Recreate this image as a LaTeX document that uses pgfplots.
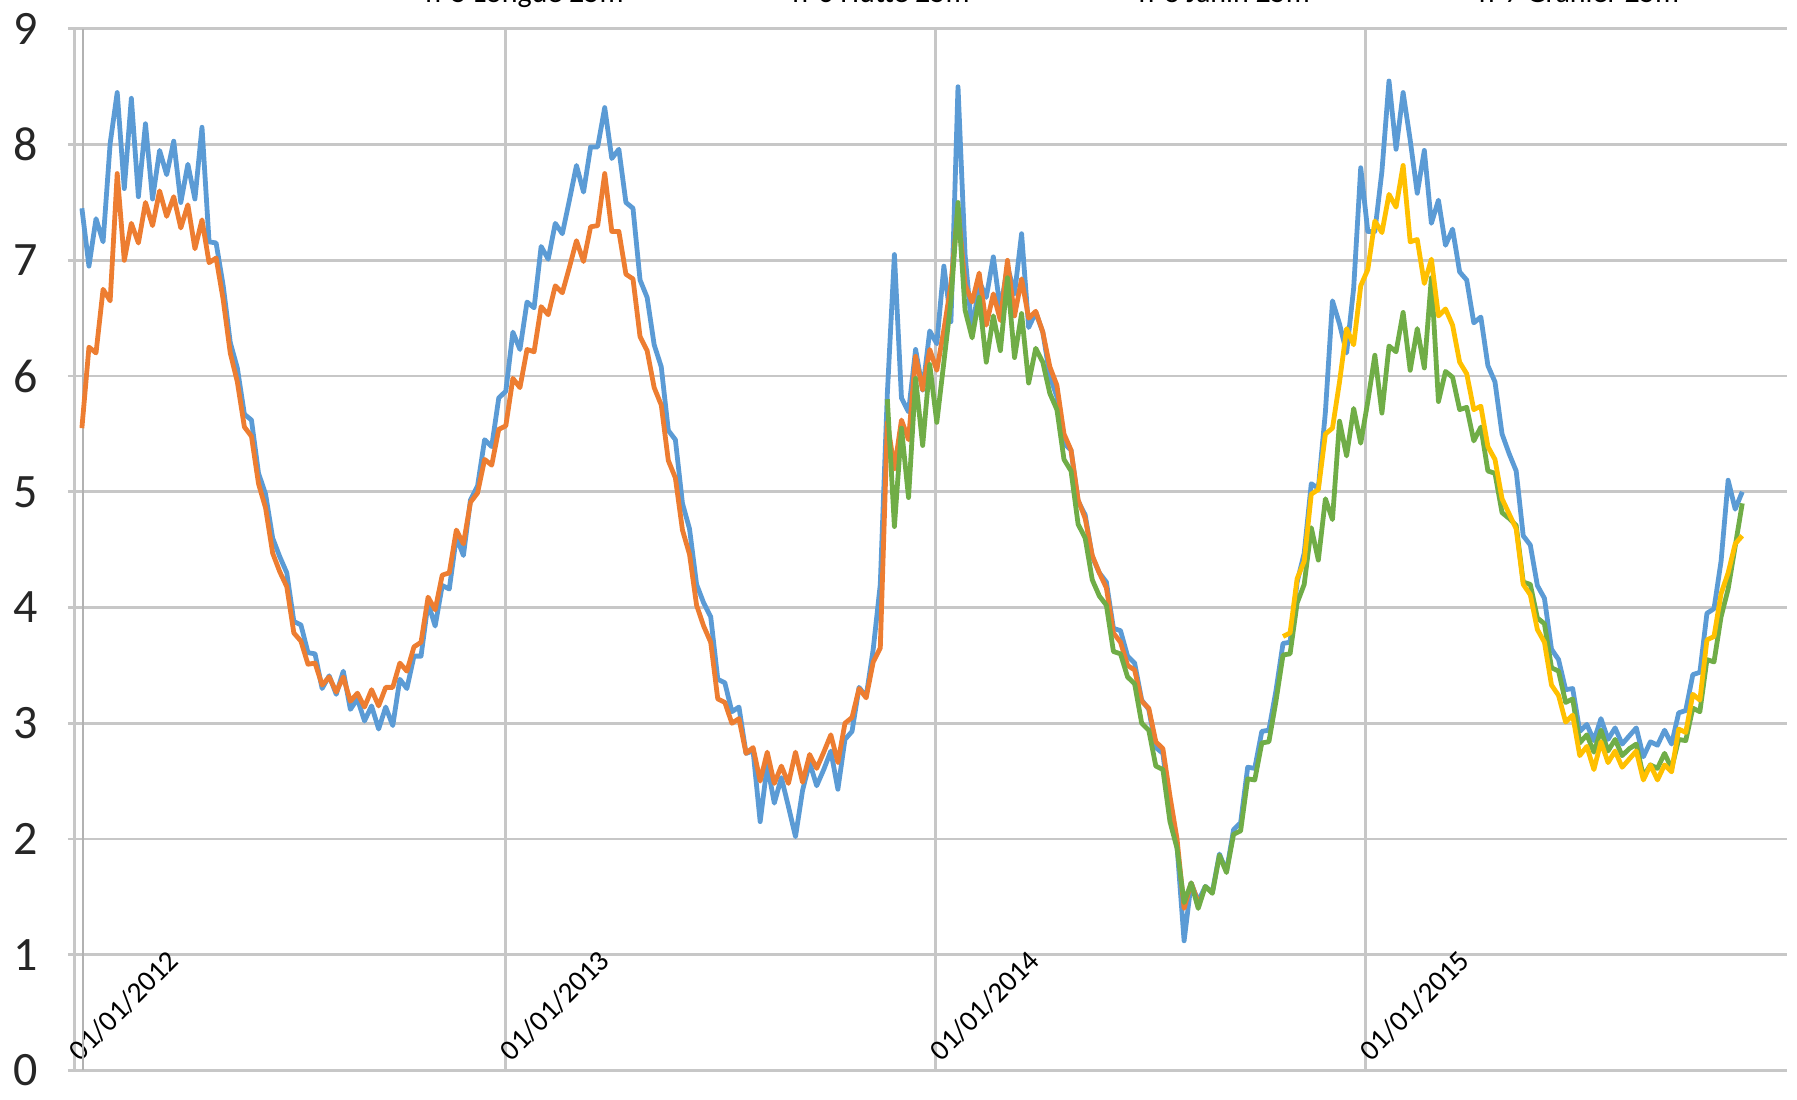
\documentclass[border=0pt]{standalone}
\usepackage{pgfplots}
\pgfplotsset{compat=1.18}
\usepackage{fontspec}
\setmainfont{Carlito}
\definecolor{cblue}{HTML}{5B9BD5}
\definecolor{corange}{HTML}{ED7D31}
\definecolor{cgreen}{HTML}{70AD47}
\definecolor{cyellow}{HTML}{FFC000}
\begin{document}
\begin{tikzpicture}
\begin{axis}[
  scale only axis, width=430pt, height=260.5pt,
  xmin=-6, xmax=1454, ymin=0, ymax=9,
  axis line style={draw=none},
  major tick length=0pt,
  xtick={0,366,731,1096},
  xticklabels={01/01/2012,01/01/2013,01/01/2014,01/01/2015},
  extra x ticks={7}, extra x tick labels={},
  extra x tick style={grid=major, major grid style={draw=black!30, line width=0.7pt}},
  ytick={0,1,2,3,4,5,6,7,8,9},
  grid=major, major grid style={draw=black!22, line width=0.7pt},
  xticklabel style={font=\fontsize{7.3}{9}\selectfont, rotate=45, anchor=south west, inner sep=0.5pt, xshift=1.8pt, yshift=-0.6pt},
  yticklabel style={font=\fontsize{12}{14}\selectfont, text=black!85, xshift=-4pt},
  /pgf/number format/assume math mode=true,
  legend columns=4,
  legend style={overlay, draw=none, fill=none, at={(axis description cs:0,1)}, anchor=south west,
    xshift=66pt, yshift=1pt, font=\fontsize{7.5}{9}\selectfont,
    /tikz/every even column/.append style={column sep=20pt}},
  every axis plot/.append style={line width=1.2pt, line join=round},
]
\addplot[cblue] table[header=false, row sep=\\, x expr={6+6*\coordindex}, y index=0] {
7.45\\ 6.95\\ 7.36\\ 7.16\\ 8.01\\ 8.45\\ 7.62\\ 8.40\\ 7.55\\ 8.18\\ 7.53\\ 7.95\\ 7.74\\ 8.03\\ 7.50\\ 7.83\\ 7.53\\ 8.15\\ 7.16\\ 7.15\\
6.78\\ 6.29\\ 6.07\\ 5.67\\ 5.62\\ 5.16\\ 4.98\\ 4.60\\ 4.44\\ 4.30\\ 3.88\\ 3.85\\ 3.61\\
3.60\\ 3.30\\ 3.41\\ 3.25\\ 3.45\\ 3.12\\ 3.21\\ 3.02\\ 3.15\\ 2.95\\ 3.14\\ 2.98\\ 3.38\\ 3.30\\ 3.58\\
3.58\\ 4.04\\ 3.84\\ 4.19\\ 4.16\\ 4.61\\ 4.45\\ 4.93\\ 5.05\\ 5.45\\ 5.39\\ 5.81\\ 5.87\\ 6.38\\ 6.23\\ 6.64\\ 6.59\\ 7.12\\ 7.01\\ 7.32\\ 7.23\\ 7.52\\ 7.82\\ 7.59\\ 7.98\\ 7.98\\ 8.32\\ 7.88\\ 7.96\\ 7.50\\
7.45\\ 6.83\\ 6.68\\ 6.27\\ 6.08\\ 5.53\\ 5.45\\ 4.90\\ 4.68\\ 4.20\\ 4.04\\ 3.92\\ 3.38\\ 3.35\\ 3.10\\
3.14\\ 2.74\\ 2.76\\ 2.15\\ 2.64\\ 2.31\\ 2.53\\ 2.28\\ 2.02\\ 2.42\\ 2.66\\ 2.46\\ 2.60\\ 2.76\\ 2.43\\ 2.86\\ 2.93\\ 3.31\\ 3.23\\ 3.64\\ 4.20\\
5.85\\ 7.05\\ 5.81\\ 5.69\\ 6.23\\ 5.88\\ 6.39\\ 6.28\\ 6.95\\ 6.47\\ 8.50\\ 7.05\\ 6.37\\ 6.82\\ 6.68\\ 7.03\\ 6.57\\ 6.95\\ 6.71\\ 7.23\\ 6.42\\
6.55\\ 6.38\\ 6.00\\ 5.82\\ 5.42\\ 5.36\\ 4.92\\ 4.80\\ 4.44\\ 4.30\\ 4.22\\ 3.82\\ 3.80\\ 3.58\\ 3.52\\ 3.20\\ 3.12\\ 2.79\\ 2.74\\ 2.23\\ 1.94\\ 1.12\\ 1.62\\ 1.46\\ 1.59\\
1.54\\ 1.87\\ 1.72\\ 2.08\\ 2.14\\ 2.62\\ 2.61\\ 2.93\\ 2.94\\ 3.28\\ 3.69\\ 3.70\\ 4.22\\ 4.47\\
5.07\\ 5.03\\ 5.69\\ 6.65\\ 6.45\\ 6.20\\ 6.76\\ 7.80\\ 7.25\\ 7.25\\ 7.77\\ 8.55\\ 7.96\\ 8.45\\ 8.04\\ 7.58\\ 7.95\\ 7.32\\ 7.52\\ 7.13\\
7.27\\ 6.90\\ 6.83\\ 6.46\\ 6.51\\ 6.09\\ 5.95\\ 5.50\\ 5.33\\ 5.18\\ 4.62\\ 4.54\\ 4.19\\ 4.08\\ 3.64\\ 3.55\\
3.29\\ 3.30\\ 2.93\\ 2.99\\ 2.85\\ 3.04\\ 2.86\\ 2.96\\ 2.82\\ 2.89\\ 2.96\\ 2.71\\ 2.84\\ 2.81\\ 2.94\\ 2.82\\
3.09\\ 3.11\\ 3.42\\ 3.44\\ 3.95\\ 3.99\\ 4.40\\ 5.10\\ 4.85\\ 5.00\\
};
\addlegendentry{n°5 Longue 25m}
\addplot[corange] table[header=false, row sep=\\, x expr={6+6*\coordindex}, y index=0] {
5.55\\ 6.25\\ 6.20\\ 6.75\\ 6.65\\ 7.75\\ 7.00\\ 7.32\\ 7.15\\ 7.50\\ 7.30\\ 7.60\\ 7.38\\ 7.55\\ 7.28\\ 7.48\\ 7.10\\ 7.35\\ 6.98\\ 7.02\\
6.66\\ 6.20\\ 5.95\\ 5.56\\ 5.48\\ 5.07\\ 4.86\\ 4.47\\ 4.31\\ 4.18\\ 3.78\\ 3.71\\ 3.51\\
3.52\\ 3.33\\ 3.40\\ 3.27\\ 3.40\\ 3.19\\ 3.26\\ 3.14\\ 3.29\\ 3.15\\ 3.31\\ 3.31\\ 3.52\\ 3.45\\ 3.66\\
3.70\\ 4.09\\ 3.98\\ 4.28\\ 4.30\\ 4.67\\ 4.55\\ 4.91\\ 4.99\\ 5.28\\ 5.23\\ 5.54\\ 5.57\\ 5.98\\ 5.90\\ 6.23\\ 6.21\\ 6.60\\ 6.53\\ 6.78\\ 6.72\\ 6.94\\ 7.17\\ 6.99\\ 7.29\\ 7.30\\ 7.75\\ 7.25\\ 7.25\\ 6.88\\
6.84\\ 6.34\\ 6.22\\ 5.90\\ 5.75\\ 5.27\\ 5.12\\ 4.67\\ 4.46\\ 4.02\\ 3.84\\ 3.70\\ 3.21\\ 3.18\\ 3.00\\
3.04\\ 2.74\\ 2.79\\ 2.50\\ 2.75\\ 2.48\\ 2.63\\ 2.48\\ 2.75\\ 2.49\\ 2.73\\ 2.61\\ 2.75\\ 2.90\\ 2.66\\ 3.00\\ 3.05\\ 3.30\\ 3.22\\ 3.53\\ 3.65\\
5.60\\ 5.20\\ 5.62\\ 5.45\\ 6.17\\ 5.88\\ 6.23\\ 6.05\\ 6.40\\ 6.79\\ 7.45\\ 6.79\\ 6.64\\ 6.89\\ 6.44\\ 6.71\\ 6.48\\ 7.00\\ 6.52\\ 6.84\\ 6.50\\
6.56\\ 6.38\\ 6.08\\ 5.92\\ 5.50\\ 5.36\\ 4.93\\ 4.77\\ 4.45\\ 4.30\\ 4.17\\ 3.78\\ 3.70\\ 3.50\\ 3.46\\ 3.19\\ 3.13\\ 2.84\\ 2.78\\ 2.37\\ 2.00\\ 1.40\\ 1.62\\ 1.45\\
};
\addlegendentry{n°6 Hutte 25m}
\addplot[cgreen] table[header=false, row sep=\\, x expr={690+6*\coordindex}, y index=0] {
5.80\\ 4.70\\ 5.55\\ 4.95\\ 5.98\\ 5.40\\ 6.10\\ 5.60\\ 6.12\\ 6.65\\ 7.50\\ 6.57\\ 6.33\\ 6.68\\ 6.12\\ 6.52\\ 6.22\\ 6.85\\ 6.16\\ 6.54\\ 5.94\\
6.24\\ 6.12\\ 5.85\\ 5.71\\ 5.28\\ 5.18\\ 4.72\\ 4.60\\ 4.24\\ 4.10\\ 4.02\\ 3.62\\ 3.60\\ 3.40\\ 3.34\\ 3.00\\ 2.94\\ 2.63\\ 2.60\\ 2.15\\ 1.92\\ 1.45\\ 1.62\\ 1.40\\ 1.59\\
1.53\\ 1.86\\ 1.71\\ 2.04\\ 2.07\\ 2.52\\ 2.51\\ 2.83\\ 2.84\\ 3.19\\ 3.59\\ 3.60\\ 4.04\\ 4.20\\
4.69\\ 4.41\\ 4.94\\ 4.76\\ 5.61\\ 5.31\\ 5.72\\ 5.42\\ 5.78\\ 6.18\\ 5.68\\ 6.26\\ 6.21\\ 6.55\\ 6.05\\ 6.41\\ 6.07\\ 6.85\\ 5.78\\ 6.04\\
5.99\\ 5.71\\ 5.73\\ 5.44\\ 5.56\\ 5.18\\ 5.16\\ 4.82\\ 4.77\\ 4.71\\ 4.22\\ 4.20\\ 3.91\\ 3.86\\ 3.48\\ 3.45\\
3.18\\ 3.21\\ 2.83\\ 2.90\\ 2.75\\ 2.94\\ 2.76\\ 2.86\\ 2.72\\ 2.78\\ 2.82\\ 2.54\\ 2.64\\ 2.61\\ 2.74\\ 2.61\\
2.86\\ 2.85\\ 3.13\\ 3.10\\ 3.55\\ 3.53\\ 3.92\\ 4.16\\ 4.53\\ 4.90\\
};
\addlegendentry{n°8 Janin 25m}
\addplot[cyellow] table[header=false, row sep=\\, x expr={1026+6*\coordindex}, y index=0] {
3.75\\ 3.78\\ 4.25\\ 4.40\\
4.98\\ 5.02\\ 5.50\\ 5.55\\ 5.95\\ 6.41\\ 6.27\\ 6.78\\ 6.92\\ 7.34\\ 7.24\\ 7.57\\ 7.46\\ 7.82\\ 7.16\\ 7.18\\ 6.80\\ 7.01\\ 6.52\\ 6.58\\
6.44\\ 6.12\\ 6.02\\ 5.71\\ 5.74\\ 5.39\\ 5.28\\ 4.94\\ 4.81\\ 4.68\\ 4.20\\ 4.11\\ 3.81\\ 3.70\\ 3.33\\ 3.24\\
3.01\\ 3.07\\ 2.72\\ 2.80\\ 2.60\\ 2.84\\ 2.66\\ 2.76\\ 2.62\\ 2.69\\ 2.76\\ 2.51\\ 2.64\\ 2.51\\ 2.64\\ 2.58\\
2.95\\ 2.92\\ 3.25\\ 3.20\\ 3.72\\ 3.75\\ 4.12\\ 4.30\\ 4.55\\ 4.62\\
};
\addlegendentry{n°7 Granier 25m}
\end{axis}
\path (current axis.east) -- ++(2.5pt,0);
\end{tikzpicture}
\end{document}
